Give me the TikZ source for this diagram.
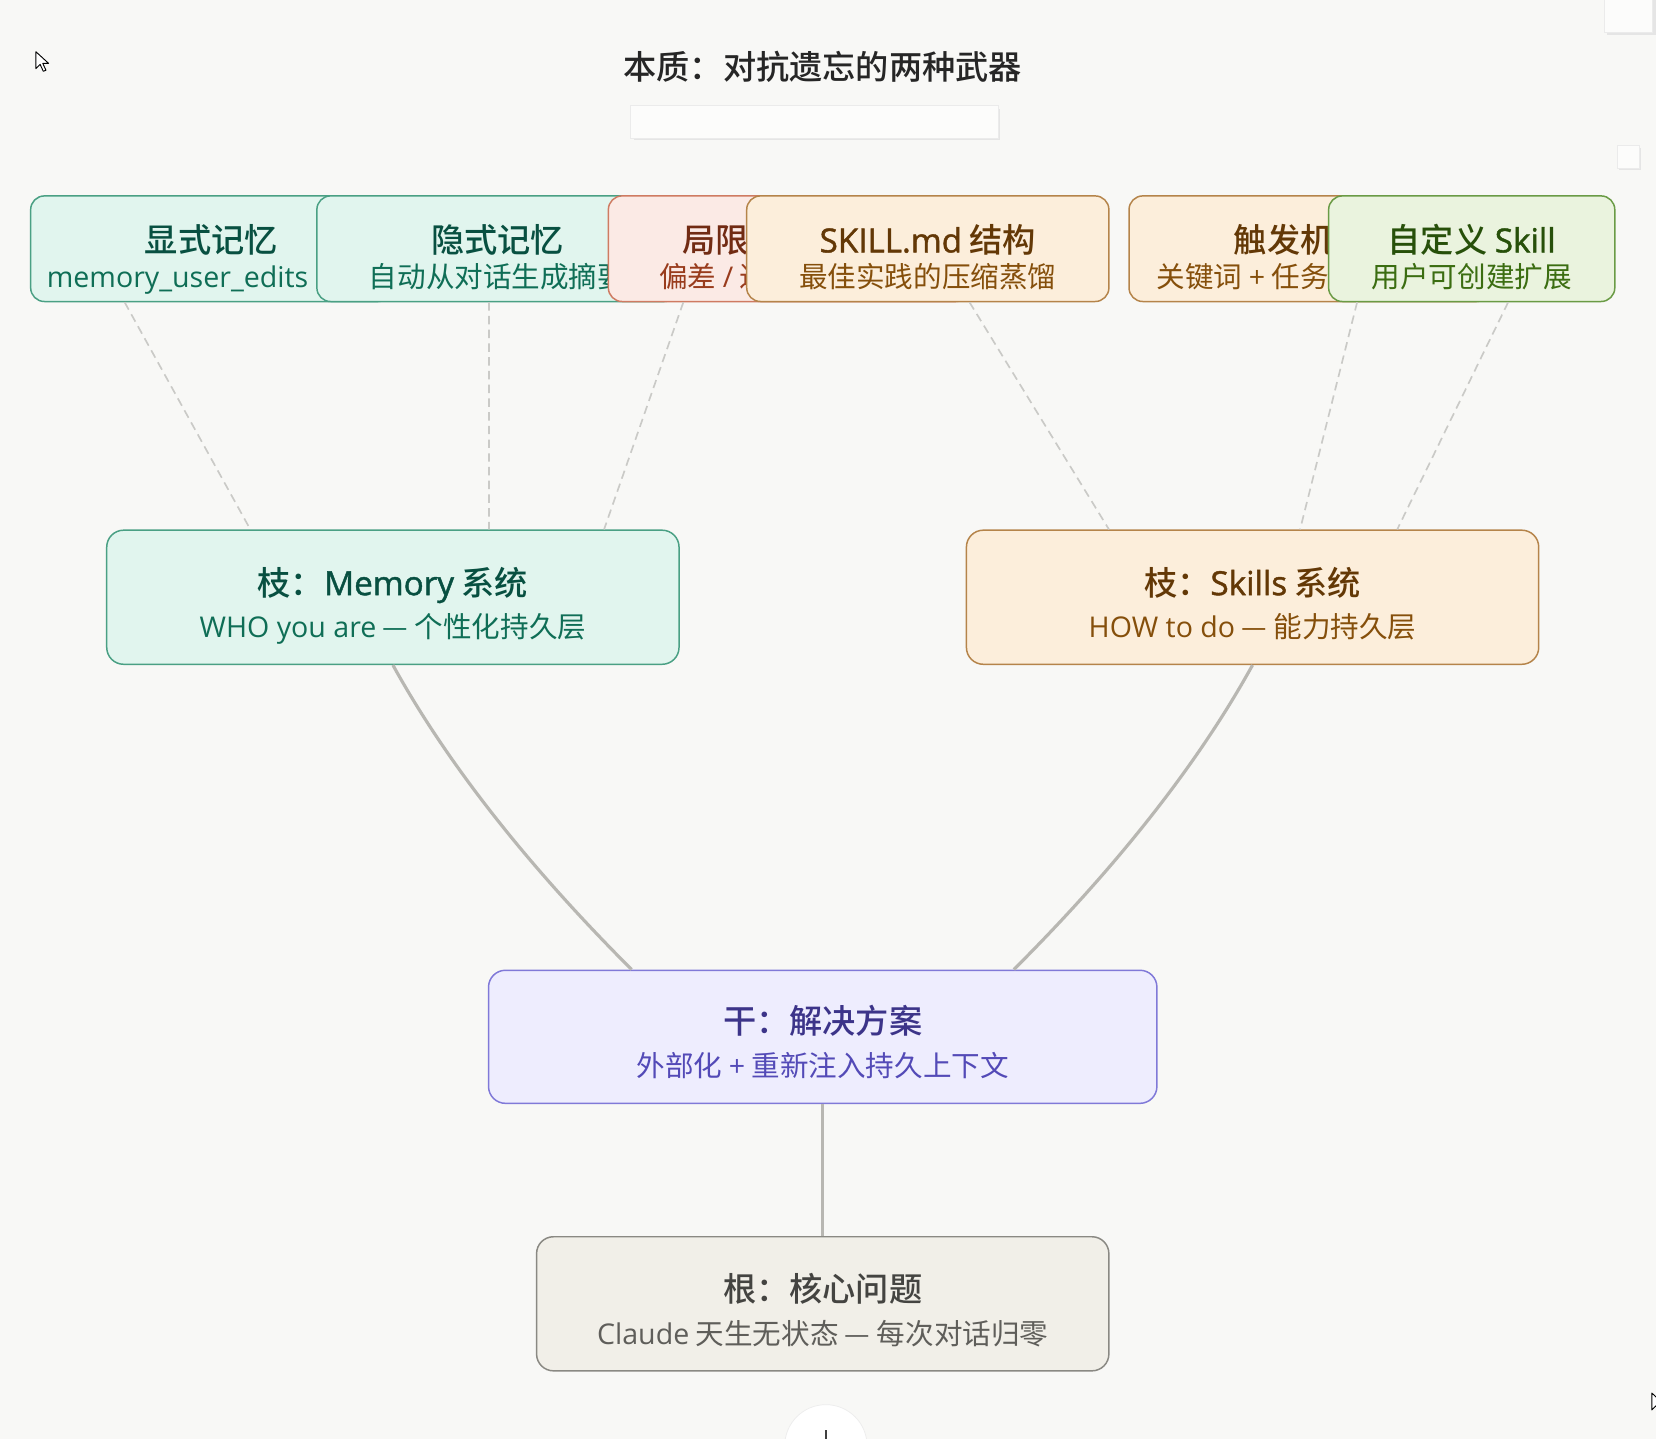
\documentclass[tikz,border=0pt]{standalone}
\usepackage{fontspec}
\setmainfont{Noto Sans CJK SC}[BoldFont={Noto Sans CJK SC Medium}]
\newfontfamily\latfont{Open Sans}[BoldFont={Open Sans},BoldFeatures={FakeBold=1.3}]
\newcommand{\lat}[1]{{\latfont #1}}
\usetikzlibrary{calc}
\definecolor{bg}{HTML}{F8F8F6}
\definecolor{tealfill}{HTML}{E1F5EE}
\definecolor{tealline}{HTML}{4AA084}
\definecolor{tealdark}{HTML}{085041}
\definecolor{tealmid}{HTML}{0F6E56}
\definecolor{coralfill}{HTML}{FBEAE5}
\definecolor{coralline}{HTML}{CF7B62}
\definecolor{coraldark}{HTML}{712B13}
\definecolor{coralmid}{HTML}{993C1D}
\definecolor{amberfill}{HTML}{FCEEDB}
\definecolor{amberline}{HTML}{B5844A}
\definecolor{amberdark}{HTML}{633806}
\definecolor{ambermid}{HTML}{854F0B}
\definecolor{greenfill}{HTML}{EAF3DE}
\definecolor{greenline}{HTML}{6A9B45}
\definecolor{greendark}{HTML}{27500A}
\definecolor{greenmid}{HTML}{3B6D11}
\definecolor{purpfill}{HTML}{EEEDFE}
\definecolor{purpline}{HTML}{8079D8}
\definecolor{purpdark}{HTML}{3C3489}
\definecolor{purpmid}{HTML}{534AB7}
\definecolor{grayfill}{HTML}{F1EFE8}
\definecolor{grayline}{HTML}{8A8983}
\definecolor{graydark}{HTML}{444441}
\definecolor{graymid}{HTML}{5F5E5A}
\definecolor{stemgray}{HTML}{B8B7B2}
\definecolor{twiggray}{HTML}{CACAC7}
\newcommand{\ttlsize}{\fontsize{17.9pt}{20pt}\selectfont}
\newcommand{\subsize}{\fontsize{15.4pt}{18pt}\selectfont}

\begin{document}
\begin{tikzpicture}[x=0.02cm,y=-0.02cm,
  leaf/.style={draw,rounded corners=0.26cm,line width=0.8pt,minimum height=2cm,minimum width=6.84cm,inner sep=0pt},
  limb/.style={draw,rounded corners=0.32cm,line width=0.8pt,minimum height=2.54cm,minimum width=10.84cm,inner sep=0pt},
  ttl/.style={anchor=base,inner sep=0pt,font=\ttlsize\bfseries},
  subtext/.style={anchor=base,inner sep=0pt,font=\subsize},
  twigline/.style={draw=twiggray,line width=0.9pt,dash pattern=on 0.16cm off 0.1cm},
  stemline/.style={draw=stemgray,line width=1.7pt},
  memcol/.style={fill=tealfill,draw=tealline},
  limcol/.style={fill=coralfill,draw=coralline},
  skcol/.style={fill=amberfill,draw=amberline},
  owncol/.style={fill=greenfill,draw=greenline},
  trkcol/.style={fill=purpfill,draw=purpline},
  rtcol/.style={fill=grayfill,draw=grayline},
  cursor/.style={fill=white,draw=black,line width=0.5pt,line join=round}]
\useasboundingbox[fill=bg] (0,0) rectangle (1568,1362.5);

% screen bits
\fill[black!10] (600,103) rectangle (947,133);
\filldraw[fill=white!55!bg,draw=black!8] (597,100) rectangle (945,131);
\fill[black!10] (1522,-4) rectangle (1568,33);
\filldraw[fill=white!55!bg,draw=black!8] (1519,-6) rectangle (1565,30.5);
\fill[black!10] (1533,140) rectangle (1554,161);
\filldraw[fill=white!55!bg,draw=black!8] (1531,138) rectangle (1552,159);
\filldraw[fill=white,draw=black!7] (782,1369) circle[radius=0.78cm];
\draw[black!75,line width=0.9pt] (782,1354) -- (782,1366);
\filldraw[cursor] (34,49) -- ++(0,16) -- ++(4,-4) -- ++(3,6.5) -- ++(2.5,-1) -- ++(-3,-6.5) -- ++(5.5,0) -- cycle;
\filldraw[cursor] (1564,1319) -- ++(0,16) -- ++(4,-4) -- ++(3,6.5) -- ++(2.5,-1) -- ++(-3,-6.5) -- ++(5.5,0) -- cycle;

\node[ttl,black!85] (head) at (779,75) {本质：对抗遗忘的两种武器};

% top row
\node[leaf,memcol] (exp) at (200,235.5) {};
\node[ttl,tealdark] (exp-t) at ($(exp.center)+(0,3.5)$) {显式记忆};
\node[subtext,tealmid,anchor=base west] (exp-s) at (44,272) {\lat{memory\_user\_edits}};
\node[leaf,memcol] (imp) at (471,235.5) {};
\node[ttl,tealdark] (imp-t) at ($(imp.center)+(0,3.5)$) {隐式记忆};
\node[subtext,tealmid] (imp-s) at ($(imp.center)+(0,36.5)$) {自动从对话生成摘要};
\node[leaf,limcol] (lim) at (747,235.5) {};
\node[ttl,coraldark,anchor=base west] (lim-t) at (646,239) {局限};
\node[subtext,coralmid,anchor=base west] (lim-s) at (624,272) {偏差 \lat{/} 过};
\node[leaf,skcol,minimum width=6.86cm] (md) at (878.5,235.5) {};
\node[ttl,amberdark] (md-t) at ($(md.center)+(0,3.5)$) {\lat{SKILL.md} 结构};
\node[subtext,ambermid] (md-s) at ($(md.center)+(0,36.5)$) {最佳实践的压缩蒸馏};
\node[leaf,skcol] (trig) at (1240,235.5) {};
\node[ttl,amberdark,anchor=base west] (trig-t) at (1168,239) {触发机};
\node[subtext,ambermid,anchor=base west] (trig-s) at (1095,272) {关键词 \lat{+} 任务};
\node[leaf,owncol,minimum width=5.42cm] (own) at (1393.5,235.5) {};
\node[ttl,greendark] (own-t) at ($(own.center)+(0,3.5)$) {自定义 \lat{Skill}};
\node[subtext,greenmid] (own-s) at ($(own.center)+(0,36.5)$) {用户可创建扩展};

% branches
\node[limb,memcol] (mem) at (372,565.5) {};
\node[ttl,tealdark] (mem-t) at ($(mem.center)+(0,-2)$) {枝：\lat{Memory} 系统};
\node[subtext,tealmid] (mem-s) at ($(mem.center)+(0,38.5)$) {\lat{WHO you are} — 个性化持久层};
\node[limb,skcol] (sk) at (1186,565.5) {};
\node[ttl,amberdark] (sk-t) at ($(sk.center)+(0,-2)$) {枝：\lat{Skills} 系统};
\node[subtext,ambermid] (sk-s) at ($(sk.center)+(0,38.5)$) {\lat{HOW to do} — 能力持久层};

% trunk and root
\node[limb,trkcol,minimum width=12.66cm,minimum height=2.52cm] (trk) at (779,981.7) {};
\node[ttl,purpdark] (trk-t) at ($(trk.center)+(0,-2.7)$) {干：解决方案};
\node[subtext,purpmid] (trk-s) at ($(trk.center)+(0,37.5)$) {外部化 \lat{+} 重新注入持久上下文};
\node[limb,rtcol] (rt) at (779,1234.5) {};
\node[ttl,graydark] (rt-t) at ($(rt.center)+(0,-2.5)$) {根：核心问题};
\node[subtext,graymid] (rt-s) at ($(rt.center)+(0,38.5)$) {\lat{Claude} 天生无状态 — 每次对话归零};

\draw[twigline] ([xshift=-1.64cm]exp.south) -- ([xshift=-2.7cm]mem.north);
\draw[twigline] ([xshift=-0.16cm]imp.south) -- ([xshift=1.82cm]mem.north);
\draw[twigline] ([xshift=-2cm]lim.south) -- ([xshift=4cm]mem.north);
\draw[twigline] ([xshift=0.79cm]md.south) -- ([xshift=-2.72cm]sk.north);
\draw[twigline] ([xshift=0.9cm]trig.south) -- ([xshift=0.9cm]sk.north);
\draw[twigline] ([xshift=0.69cm]own.south) -- ([xshift=2.74cm]sk.north);

\draw[stemline] (mem.south) .. controls +(53,96) and +(-96,-96) .. ([xshift=-3.62cm]trk.north);
\draw[stemline] (sk.south) .. controls +(-53,96) and +(96,-96) .. ([xshift=3.62cm]trk.north);
\draw[stemline] (trk.south) -- (rt.north);

\end{tikzpicture}
\end{document}
